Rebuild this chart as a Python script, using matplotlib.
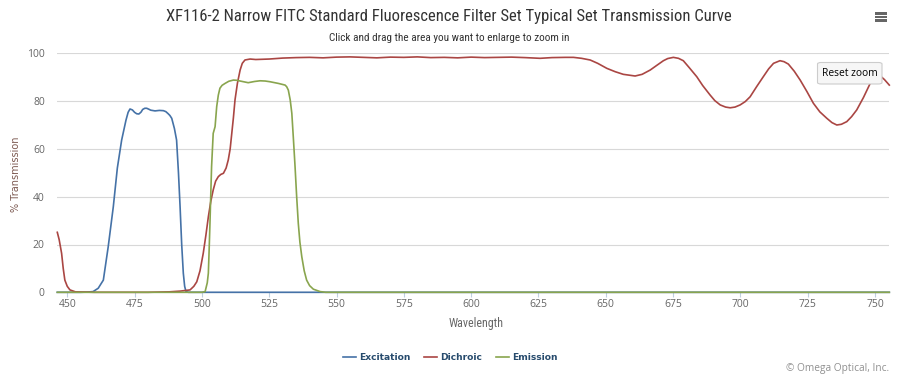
import matplotlib
matplotlib.use("Agg")
import matplotlib.pyplot as plt
from matplotlib.patches import FancyBboxPatch, Rectangle
from matplotlib import font_manager as fm

# ---------------- data ----------------
exc_wl = [446.3, 455, 457.5, 459.6, 461.5, 463.4, 465.2, 467.1, 468.6, 470.2, 471.8, 472.6, 473.3,
          474.2, 475.0, 475.8, 476.6, 477.4, 478.0, 478.8, 479.5, 480.3, 481.0, 482.6, 484.2,
          485.7, 486.6, 487.4, 488.1, 488.8, 489.8, 490.6, 491.3, 491.9, 492.5, 493.1, 493.6,
          494.1, 495.0, 755.3]
exc_val = [0, 0, 0.1, 0.3, 1.7, 5.1, 19, 35.8, 52, 63.7, 72, 75.3, 76.7,
           76.3, 75.3, 74.7, 74.6, 75.4, 76.5, 77.0, 77.0, 76.6, 76.2, 75.9, 76.1,
           76.0, 75.6, 74.8, 74.0, 72.8, 68.5, 63.7, 50, 35.8, 20, 8, 2.5,
           0.3, 0, 0]

dic_wl = [446.3, 447.0, 447.9, 448.5, 449.1, 450.0, 451.0, 453.0, 460, 480, 488, 492, 495.6,
          497.0, 498.1, 499.3, 500.5, 501.5, 502.4, 503.3, 504.2, 505.1, 506.1, 507.0, 508.0,
          509.0, 509.8, 510.5, 511.1, 511.7, 512.3, 513.2, 514.2, 515.0, 516.0, 517.9, 520,
          525, 530, 535, 540, 545, 550, 555, 560, 565, 570, 575, 580, 585, 590, 595, 600,
          605, 610, 615, 620, 625.6, 630, 635, 638, 641, 644.2, 647, 650.4, 653.5, 656.5,
          660.9, 663.5, 666.5, 669, 671.4, 673, 675.1, 677, 678.8, 681, 683.8, 686, 688.7,
          690.5, 692.5, 694.5, 696.2, 698, 699.9, 701.8, 703.6, 706, 708.5, 710.5, 712.3,
          714.7, 716.2, 717.8, 720, 722.2, 724.7, 727.1, 729.5, 732.1, 734, 735.8, 737.5,
          739.5, 741.3, 743.2, 745.7, 748.2, 750.6, 752, 753.5, 755.3]
dic_val = [25.1, 22, 16.3, 10, 5.1, 2.5, 1.0, 0.2, 0, 0, 0.2, 0.5, 1.0,
           2.5, 4.4, 9, 16.3, 24, 31.6, 38, 42.8, 46.5, 48.4, 49.3, 49.8,
           52, 55.4, 60, 66.5, 73, 80.5, 87.5, 93, 95.8, 97.2, 97.6, 97.4,
           97.6, 98.0, 98.2, 98.3, 98.1, 98.4, 98.5, 98.3, 98.1, 98.4, 98.3, 98.5, 98.2, 98.3, 98.1, 98.4,
           98.2, 98.3, 98.4, 98.2, 97.9, 98.2, 98.3, 98.3, 97.9, 97.2, 95.8, 93.7, 92.3, 91.2,
           90.5, 91.2, 93.0, 95.0, 96.9, 97.8, 98.3, 97.9, 96.9, 94.0, 90.2, 86.5, 82.6,
           80.2, 78.4, 77.5, 77.2, 77.5, 78.4, 79.8, 81.8, 86.0, 90.2, 93.5, 95.8,
           96.9, 96.5, 95.5, 92.5, 88.8, 84.0, 79.1, 75.5, 72.8, 71.0, 70.0, 70.3,
           71.4, 73.5, 76.3, 81.5, 87.4, 90.9, 90.5, 89.0, 86.7]

emi_wl = [446.3, 500.0, 501.2, 502.0, 502.4, 502.7, 503.0, 503.3, 503.6, 504.2, 504.9, 505.5,
          506.1, 506.7, 507.5, 508.6, 510.0, 511.7, 513.0, 514.2, 517.2, 519.5, 521.6, 523.5,
          525.3, 528.4, 530.9, 531.5, 532.1, 532.8, 533.4, 534.0, 534.6, 535.2, 535.8, 536.4,
          537.1, 538.0, 538.9, 540.0, 541.4, 543.9, 546.0, 755.3]
emi_val = [0, 0, 0.3, 4, 8, 18, 28.9, 41, 52.6, 66.5, 69.3, 77.7,
           82.5, 85.4, 86.6, 87.4, 88.3, 88.8, 88.7, 88.4, 87.7, 88.2, 88.5, 88.4,
           88.1, 87.4, 86.7, 86.0, 84.6, 80.5, 74.9, 64, 52.6, 40, 28.9, 21,
           14.9, 9, 5.1, 2.8, 1.3, 0.3, 0, 0]

series_names = ["Excitation", "Dichroic", "Emission"]
series_colors = ["#4572A7", "#AA4643", "#89A54E"]
x_ticks = [450, 475, 500, 525, 550, 575, 600, 625, 650, 675, 700, 725, 750]
y_ticks = [0, 20, 40, 60, 80, 100]

title = "XF116-2 Narrow FITC Standard Fluorescence Filter Set Typical Set Transmission Curve"
subtitle = "Click and drag the area you want to enlarge to zoom in"


def first_font(cands):
    for name in cands:
        try:
            fm.findfont(fm.FontProperties(family=name), fallback_to_default=False)
            return name
        except Exception:
            continue
    return "DejaVu Sans"


narrow_name = first_font(["Liberation Sans Narrow", "DejaVu Sans Condensed", "Roboto Condensed",
                          "Open Sans Condensed", "Noto Sans"])
narrow = [narrow_name, "DejaVu Sans"]
tickfont = ["Open Sans", "DejaVu Sans"]

# ---------------- figure ----------------
W, H = 909, 376
fig = plt.figure(figsize=(W / 100, H / 100), dpi=100)


def fx(x):
    return x / W


def fy(y):
    return 1 - y / H


L, R, T, B = 57.3, 889.3, 53.3, 292.3
ax = fig.add_axes([fx(L), fy(B), (R - L) / W, (B - T) / H])

for wl, val, name, col in zip([exc_wl, dic_wl, emi_wl], [exc_val, dic_val, emi_val],
                              series_names, series_colors):
    ax.plot(wl, val, color=col, lw=1.2, label=name, clip_on=False, zorder=3,
            solid_joinstyle="round", antialiased=True)

ax.set_xlim(446.3, 755.3)
ax.set_ylim(0, 100)
ax.set_xticks(x_ticks)
ax.set_yticks(y_ticks)
ax.set_xticklabels([str(t) for t in x_ticks], family=tickfont, fontsize=7.5, color="#666666")
ax.set_yticklabels([str(t) for t in y_ticks], family=tickfont, fontsize=7.5, color="#666666")
ax.tick_params(axis="x", direction="out", length=3.6, width=0.8, color="#C0D0E0", pad=1.5)
ax.tick_params(axis="y", length=0, pad=9)
ax.grid(axis="y", color="#D8D8D8", lw=0.8, zorder=0)
ax.set_axisbelow(True)
for s in ["top", "right", "left"]:
    ax.spines[s].set_visible(False)
ax.spines["bottom"].set_color("#C0D0E0")
ax.spines["bottom"].set_linewidth(0.8)

xl = fig.text(fx(476), fy(323), "Wavelength", ha="center", va="center", family=narrow,
              fontsize=8.5, color="#666666")
yl = fig.text(fx(16), fy(174), "% Transmission", ha="center", va="center", rotation=90,
              family=["DejaVu Sans"], fontsize=7, color="#7d5a52")

# title / subtitle
tt = fig.text(fx(449), fy(16), title, ha="center", va="center", family=narrow, fontsize=11.5,
              color="#333333")
st = fig.text(fx(449.5), fy(38), subtitle, ha="center", va="center", family=narrow, fontsize=7.2,
              color="#333333")

# legend
leg = fig.legend(loc="center", bbox_to_anchor=(fx(450), fy(358)), ncol=3, frameon=False,
                 handlelength=1.45, handletextpad=0.3, columnspacing=1.5,
                 prop={"family": ["DejaVu Sans"], "weight": "bold", "size": 6.6})
for t in leg.get_texts():
    t.set_color("#274b6d")

# credits
cr = fig.text(fx(889), fy(368), "\u00a9 Omega Optical, Inc.", ha="right", va="center",
              family=tickfont, fontsize=7, color="#909090")

# reset zoom button
btn = FancyBboxPatch((fx(817.5), fy(84)), (882 - 817.5) / W, (84 - 62.5) / H,
                     boxstyle="round,pad=0,rounding_size=0.004", transform=fig.transFigure,
                     facecolor="#f6f6f6", edgecolor="#cccccc", lw=0.8, zorder=10)
fig.add_artist(btn)
rz = fig.text(fx(849.7), fy(73), "Reset zoom", ha="center", va="center", family=tickfont,
              fontsize=7, color="#000000", zorder=11)

# menu icon
for yy in [13.5, 17, 20.5]:
    fig.add_artist(Rectangle((fx(875), fy(yy + 1)), 12 / W, 2 / H, transform=fig.transFigure,
                             facecolor="#666666", edgecolor="none"))

# fit text widths to the reference layout
fig.canvas.draw()
rend = fig.canvas.get_renderer()
for txt, target in [(tt, 566), (st, 241), (xl, 55), (cr, 104), (rz, 56)]:
    w = txt.get_window_extent(rend).width
    if w > 0:
        txt.set_fontsize(txt.get_fontsize() * target / w)

fig.savefig("out.png", dpi=100)
